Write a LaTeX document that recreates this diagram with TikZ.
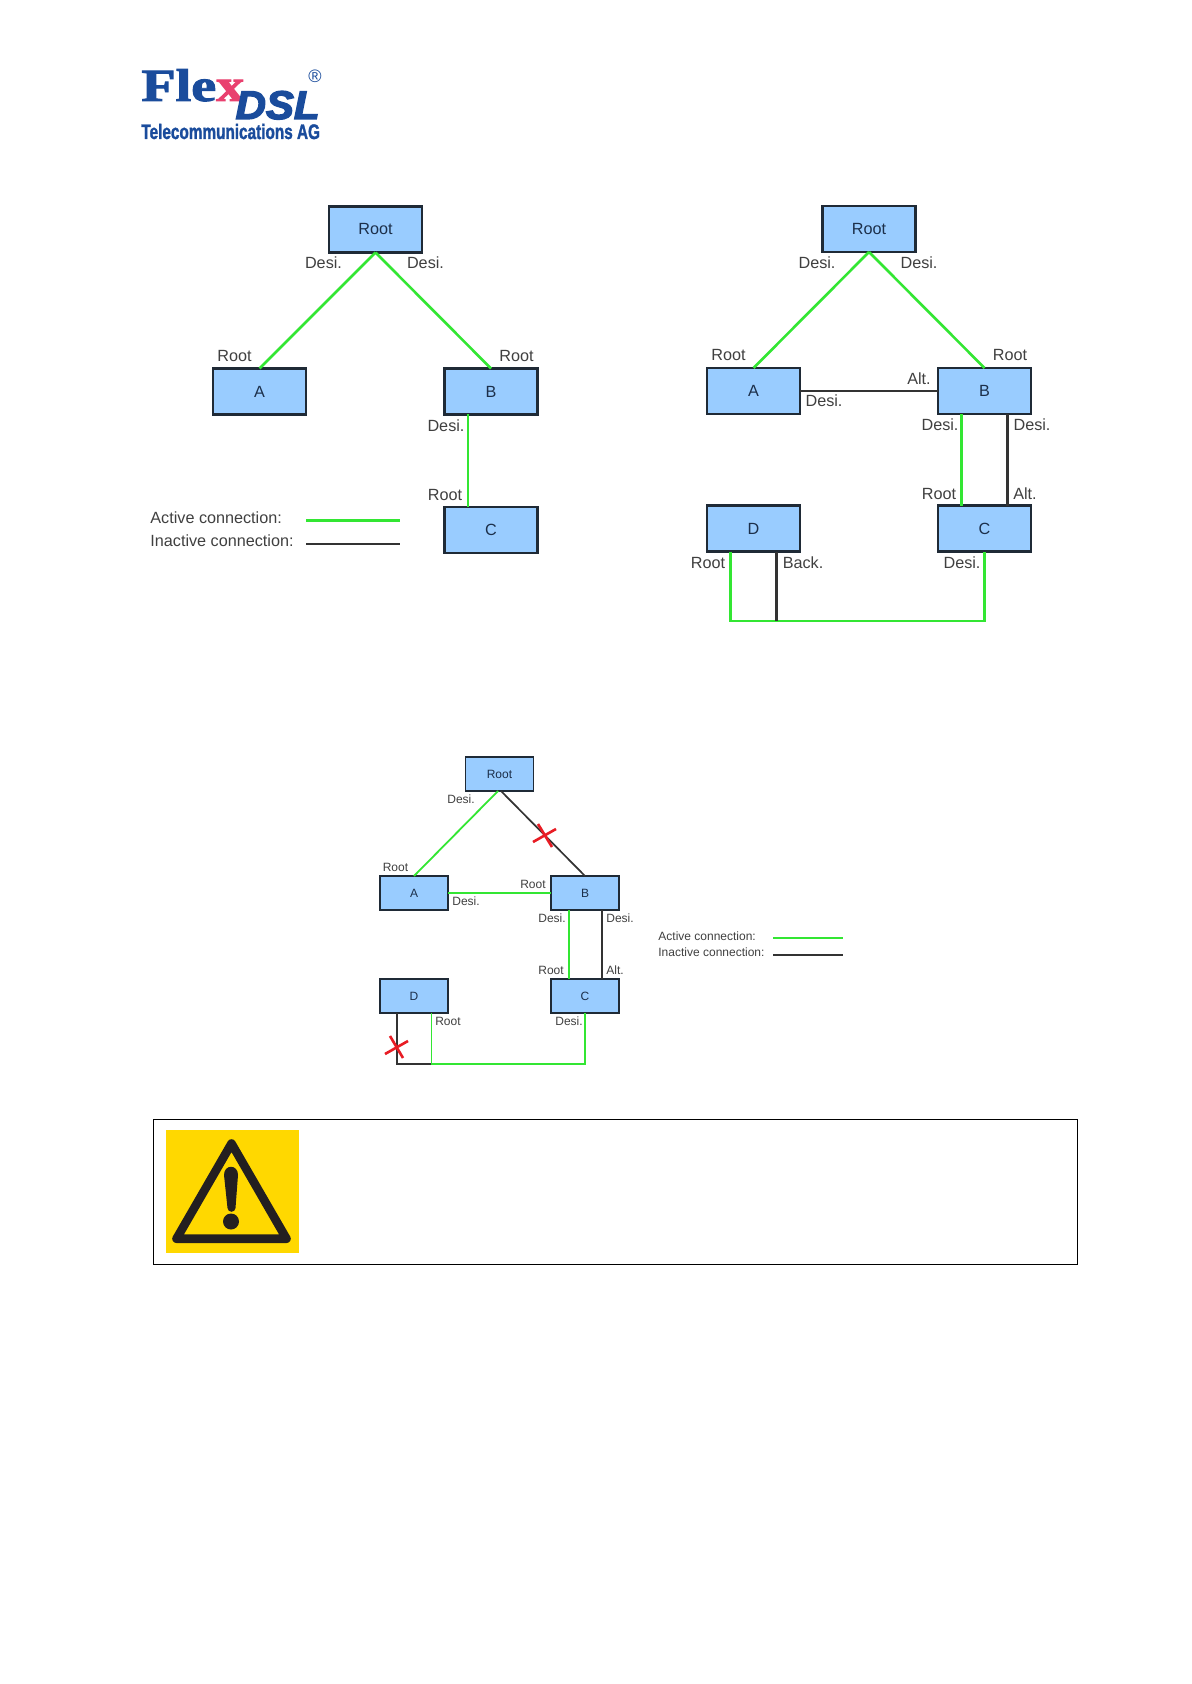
\documentclass[tikz,border=0pt]{standalone}
\usepackage{fontspec}
\setmainfont{Liberation Sans}
\newfontfamily\logoserif[FakeBold=2]{Liberation Serif Bold}
\newfontfamily\logosans[FakeBold=3.5]{Liberation Sans Bold Italic}
\newfontfamily\logotele[FakeBold=1.8]{Liberation Sans Bold}
\definecolor{boxblue}{HTML}{99CCFF}
\definecolor{boxline}{HTML}{1F2A36}
\definecolor{activegreen}{HTML}{33E633}
\definecolor{inactivedark}{HTML}{333333}
\definecolor{labelgrey}{HTML}{404040}
\definecolor{boxtext}{HTML}{1C2F4A}
\definecolor{logoblue}{HTML}{1A4C9C}
\definecolor{logopink}{HTML}{E9406F}
\definecolor{warnyellow}{HTML}{FFD800}
\definecolor{warnblack}{HTML}{231F20}
\definecolor{crossred}{HTML}{E81C24}
\tikzset{
  x=0.5pt,y=-0.5pt,
  bigbox/.style={draw=boxline,fill=boxblue,line width=1.1pt,minimum width=46.5pt,minimum height=23pt,inner sep=0pt,outer sep=0pt,font=\fontsize{8.1pt}{9pt}\selectfont,text=boxtext},
  smallbox/.style={draw=boxline,fill=boxblue,line width=.85pt,minimum width=34pt,minimum height=17pt,inner sep=0pt,outer sep=0pt,font=\fontsize{6pt}{7pt}\selectfont,text=boxtext},
  biglab/.style={inner sep=0pt,text=labelgrey,font=\fontsize{8.1pt}{9pt}\selectfont,text height=5.8pt,text depth=0pt},
  smalllab/.style={inner sep=0pt,text=labelgrey,font=\fontsize{6pt}{7pt}\selectfont,text height=4.3pt,text depth=0pt},
  active/.style={draw=activegreen,line width=1.3pt},
  inactive/.style={draw=inactivedark,line width=1.1pt},
  activethin/.style={draw=activegreen,line width=.9pt},
  inactivethin/.style={draw=inactivedark,line width=.85pt},
  crossmark/.style={draw=crossred,line width=1.3pt},
}
\begin{document}
\begin{tikzpicture}
\useasboundingbox[fill=white] (0,0) rectangle (1191,1684);

% logo
\node[anchor=base west,inner sep=0pt,text=logoblue] (logoA) at (141,101)
  {\logoserif\fontsize{23pt}{24pt}\selectfont\scalebox{1.22}[1]{Fle\textcolor{logopink}{x}}};
\node[anchor=base east,inner sep=0pt,text=logoblue] (logoB) at (320,119)
  {\logosans\fontsize{20pt}{20pt}\selectfont\scalebox{1.05}[1]{DSL}};
\node[anchor=base west,inner sep=0pt,text=logoblue] (logoC) at (141,139)
  {\logotele\fontsize{10.5pt}{11pt}\selectfont\scalebox{.73}[1]{Telecommunications AG}};
\node[inner sep=0pt,text=logoblue] (logoR) at (315,76)
  {\fontsize{9pt}{9pt}\selectfont ®};

% diagram 1
\node[bigbox] (r1) at (375.5,229.5) {Root};
\node[bigbox] (a1) at (259.5,391.5) {A};
\node[bigbox] (b1) at (491,391.5) {B};
\node[bigbox] (c1) at (491,530) {C};
\draw[active] (r1.south) -- (a1.north);
\draw[active] (r1.south) -- (b1.north);
\draw[active] ([shift={(-23,0)}]b1.south) -- ([shift={(-23,0)}]c1.north);
\node[biglab] (l1a) at (323.5,263) {Desi.};
\node[biglab] (l1b) at (425.5,263) {Desi.};
\node[biglab] (l1c) at (234.5,356) {Root};
\node[biglab] (l1d) at (516.5,356) {Root};
\node[biglab] (l1e) at (446,425.5) {Desi.};
\node[biglab] (l1f) at (445,495) {Root};
\node[biglab,anchor=west] (l1g) at (150,518) {Active connection:};
\node[biglab,anchor=west] (l1h) at (150,541) {Inactive connection:};
\coordinate (k1a) at (306,520.5); \coordinate (k1b) at (400,520.5);
\coordinate (k1c) at (306,544); \coordinate (k1d) at (400,544);
\draw[active] (k1a) -- (k1b);
\draw[inactive] (k1c) -- (k1d);

% diagram 2
\node[bigbox] (r2) at (869,229) {Root};
\node[bigbox] (a2) at (753.5,391) {A};
\node[bigbox] (b2) at (984.5,391) {B};
\node[bigbox] (d2) at (753.5,528.5) {D};
\node[bigbox] (c2) at (984.5,528.5) {C};
\draw[active] (r2.south) -- (a2.north);
\draw[active] (r2.south) -- (b2.north);
\draw[inactive] (a2.east) -- (b2.west);
\draw[active] ([shift={(-23,0)}]b2.south) -- ([shift={(-23,0)}]c2.north);
\draw[inactive] ([shift={(23,0)}]b2.south) -- ([shift={(23,0)}]c2.north);
\coordinate (j2) at (776.5,621);
\draw[active,line join=miter] ([shift={(-23,0)}]d2.south) -- ++(0,69.5) -| (c2.south);
\draw[inactive] ([shift={(23,0)}]d2.south) -- (j2);
\node[biglab] (l2a) at (817,263) {Desi.};
\node[biglab] (l2b) at (919,263) {Desi.};
\node[biglab] (l2c) at (728.5,355) {Root};
\node[biglab] (l2d) at (1010,355) {Root};
\node[biglab] (l2e) at (919,379) {Alt.};
\node[biglab] (l2f) at (824,401) {Desi.};
\node[biglab] (l2g) at (940,425) {Desi.};
\node[biglab] (l2h) at (1032,425) {Desi.};
\node[biglab] (l2i) at (939,494) {Root};
\node[biglab] (l2j) at (1025,494) {Alt.};
\node[biglab] (l2k) at (708,563) {Root};
\node[biglab] (l2l) at (803,563) {Back.};
\node[biglab] (l2m) at (962,563) {Desi.};

% diagram 3
\node[smallbox] (r3) at (499.5,774) {Root};
\node[smallbox] (a3) at (414,893) {A};
\node[smallbox] (b3) at (585,893) {B};
\node[smallbox] (d3) at (414,996) {D};
\node[smallbox] (c3) at (585,996) {C};
\draw[activethin] ([shift={(-1.5,0)}]r3.south) -- (a3.north);
\draw[inactivethin] ([shift={(1.5,0)}]r3.south) -- (b3.north);
\draw[activethin] (a3.east) -- (b3.west);
\draw[activethin] ([shift={(-16,0)}]b3.south) -- ([shift={(-16,0)}]c3.north);
\draw[inactivethin] ([shift={(17,0)}]b3.south) -- ([shift={(17,0)}]c3.north);
\coordinate (j3) at (431.5,1064);
\draw[inactivethin] ([shift={(-17,0)}]d3.south) |- (j3);
\draw[activethin] ([shift={(17.5,0)}]d3.south) -- (j3) -| (c3.south);
\draw[crossmark] (533,842) -- (556,829) (538,824) -- (552,847);
\draw[crossmark] (385,1054) -- (408,1041) (390,1036) -- (403,1058);
\node[smalllab] (l3a) at (461,799) {Desi.};
\node[smalllab] (l3b) at (395.5,867) {Root};
\node[smalllab] (l3c) at (533,884) {Root};
\node[smalllab] (l3d) at (466,901) {Desi.};
\node[smalllab] (l3e) at (552,918) {Desi.};
\node[smalllab] (l3f) at (620,918) {Desi.};
\node[smalllab] (l3g) at (551,970) {Root};
\node[smalllab] (l3h) at (615,970) {Alt.};
\node[smalllab] (l3i) at (448,1021) {Root};
\node[smalllab] (l3j) at (569,1021) {Desi.};
\node[smalllab,anchor=west] (l3k) at (658,936) {Active connection:};
\node[smalllab,anchor=west] (l3l) at (658,952.5) {Inactive connection:};
\coordinate (k3a) at (773,938); \coordinate (k3b) at (843,938);
\coordinate (k3c) at (773,955); \coordinate (k3d) at (843,955);
\draw[activethin] (k3a) -- (k3b);
\draw[inactivethin] (k3c) -- (k3d);

% warning box
\draw[black,line width=.4pt] (153,1119) rectangle (1077,1264);
\fill[warnyellow] (166,1130) rectangle (299,1253);
\draw[warnblack,line width=4.3pt,line join=round] (231.5,1143.5) -- (176.5,1238.7) -- (286.5,1238.7) -- cycle;
\fill[warnblack] (224,1175) .. controls (224,1164) and (238,1164) .. (238,1175) -- (235.5,1208) .. controls (235,1213) and (228,1213) .. (227.5,1208) -- cycle;
\fill[warnblack] (231,1221.5) circle[radius=8];
\end{tikzpicture}
\end{document}
